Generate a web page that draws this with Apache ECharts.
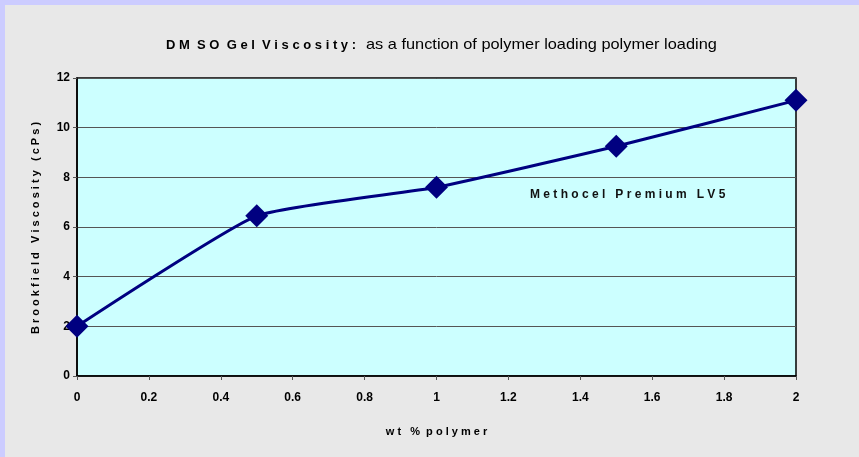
<!DOCTYPE html>
<html><head><meta charset="utf-8">
<script src="https://cdn.jsdelivr.net/npm/echarts@6/dist/echarts.min.js"></script>
<style>html,body{margin:0;padding:0;background:#e8e8e8}#c{width:859px;height:457px}</style>
</head><body><div id="c"></div>
<script>
var xValues = [0, 0.5, 1, 1.5, 2];
var yValues = [2.0, 6.45, 7.6, 9.25, 11.1];
var seriesName = 'Methocel Premium LV5';
var xTicks = [0, 0.2, 0.4, 0.6, 0.8, 1, 1.2, 1.4, 1.6, 1.8, 2];
var yTicks = [0, 2, 4, 6, 8, 10, 12];

var chart = echarts.init(document.getElementById('c'), null, {renderer: 'canvas'});
var data = xValues.map(function (x, i) { return [x, yValues[i]]; });
chart.setOption({
  backgroundColor: '#e8e8e8',
  animation: false,
  textStyle: {fontFamily: 'Liberation Sans, Arial, sans-serif'},
  graphic: [
    {type: 'rect', shape: {x: 0, y: 0, width: 859, height: 5}, style: {fill: '#ccccff'}},
    {type: 'rect', shape: {x: 0, y: 0, width: 5, height: 457}, style: {fill: '#ccccff'}},
    {type: 'text', x: 166, y: 45, style: {
      text: 'D M  S O  G e l  V i s c o s i t y :', fontSize: 13, fontWeight: 'bold', fill: '#000',
      verticalAlign: 'middle', fontFamily: 'Liberation Sans, Arial'
    }},
    {type: 'text', x: 366, y: 45, scaleX: 1.09, style: {
      text: 'as a function of polymer loading polymer loading', fontSize: 15, fill: '#000',
      verticalAlign: 'middle', fontFamily: 'Liberation Sans, Arial'
    }},
    {type: 'text', left: 530, top: 189, style: {
      text: 'M e t h o c e l   P r e m i u m   L V 5', fontSize: 12, fontWeight: 'bold', fill: '#111',
      fontFamily: 'Liberation Sans, Arial'
    }},
    {type: 'text', x: 36, y: 228, rotation: Math.PI / 2, style: {
      text: 'B r o o k f i e l d   V i s c o s i t y   ( c P s )', fontSize: 11, fontWeight: 'bold', fill: '#000',
      align: 'center', verticalAlign: 'middle', fontFamily: 'Liberation Sans, Arial'
    }}
  ],
  grid: {left: 77, right: 63, top: 78, bottom: 81, show: true, backgroundColor: '#ccffff', borderColor: '#000', borderWidth: 1.5},
  xAxis: {
    type: 'value', min: 0, max: 2, interval: 0.2,
    name: 'w t   %  p o l y m e r', nameLocation: 'middle', nameGap: 50,
    nameTextStyle: {fontSize: 11, fontWeight: 'bold', color: '#000'},
    axisLine: {show: true, lineStyle: {color: '#000', width: 1.5}},
    axisTick: {show: true, length: 4, lineStyle: {color: '#555'}},
    axisLabel: {fontSize: 12, fontWeight: 'bold', color: '#000', margin: 16,
      formatter: function (v) { return String(Math.round(v * 10) / 10); }},
    splitLine: {show: false}
  },
  yAxis: {
    type: 'value', min: 0, max: 12, interval: 2,
    axisLine: {show: true, lineStyle: {color: '#000', width: 1.5}},
    axisTick: {show: true, length: 4, lineStyle: {color: '#555'}},
    axisLabel: {fontSize: 12, fontWeight: 'bold', color: '#000', margin: 7},
    splitLine: {show: true, lineStyle: {color: '#555', width: 1}}
  },
  series: [{
    name: seriesName, type: 'line', data: data, smooth: 0.15,
    lineStyle: {color: '#000080', width: 3},
    itemStyle: {color: '#000080'},
    symbol: 'diamond', symbolSize: 23
  }]
});
</script></body></html>
